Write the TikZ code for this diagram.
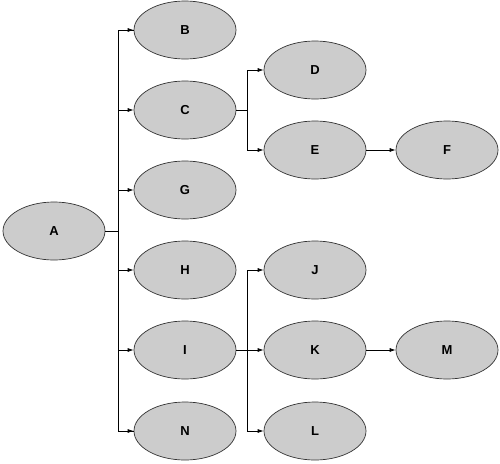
\documentclass[tikz,border=0pt]{standalone}
\usepackage{fontspec}
\setmainfont{Liberation Sans}
\usetikzlibrary{shapes.geometric,arrows.meta}
\begin{document}
\begin{tikzpicture}[x=1pt,y=-1pt,
  nd/.style={ellipse,draw=black!80,fill=black!20,line width=0.7pt,minimum width=102pt,minimum height=58pt,inner sep=0pt,font=\fontsize{13}{15}\selectfont\bfseries},
  conn/.style={line width=0.7pt},
  arr/.style={conn,-{Latex[length=6pt,width=4pt]}}]
\useasboundingbox (0,0) rectangle (500,463);
\node[nd] (A) at (54,231) {A};
\node[nd] (B) at (185,30) {B};
\node[nd] (C) at (185,110) {C};
\node[nd] (G) at (185,190) {G};
\node[nd] (H) at (185,270) {H};
\node[nd] (I) at (185,350) {I};
\node[nd] (N) at (185,431) {N};
\node[nd] (D) at (315,70) {D};
\node[nd] (E) at (315,150) {E};
\node[nd] (F) at (447,150) {F};
\node[nd] (J) at (315,270) {J};
\node[nd] (K) at (315,350) {K};
\node[nd] (L) at (315,431) {L};
\node[nd] (M) at (447,350) {M};
\coordinate (ta) at (118,231);
\coordinate (tc) at (247,110);
\coordinate (ti) at (247,350);
\draw[conn] (A.east) -- (ta);
\draw[conn] (ta) |- (B.west) ;
\draw[conn] (ta) |- (N.west) ;
\foreach \n in {B,C,G,H,I,N} \draw[arr] (ta |- \n.west) -- (\n.west);
\draw[conn] (C.east) -- (tc);
\draw[conn] (tc |- D.west) -- (tc |- E.west);
\foreach \n in {D,E} \draw[arr] (tc |- \n.west) -- (\n.west);
\draw[conn] (I.east) -- (ti);
\draw[conn] (ti |- J.west) -- (ti |- L.west);
\foreach \n in {J,K,L} \draw[arr] (ti |- \n.west) -- (\n.west);
\draw[arr] (E) -- (F);
\draw[arr] (K) -- (M);
\end{tikzpicture}
\end{document}
